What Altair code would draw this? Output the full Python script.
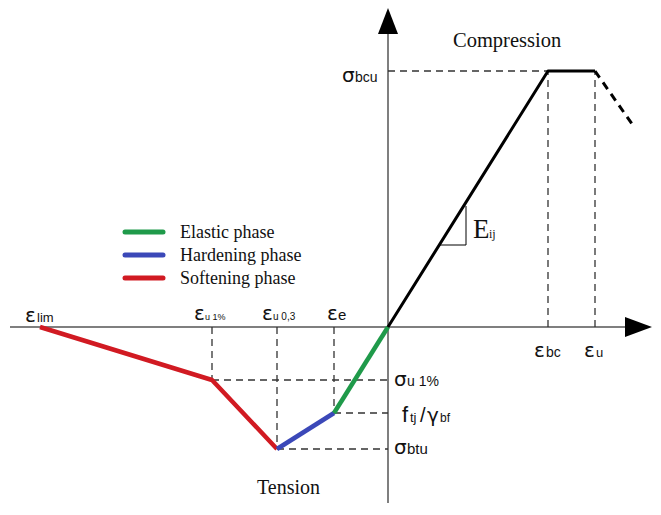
import altair as alt
import pandas as pd

# ---- key values (arbitrary units, origin at axis crossing) ----
# tension branch (strain, stress)
eps_lim, eps_u1, eps_u03, eps_e = -348, -176, -111, -54
sig_u1, sig_btu, sig_ftj = -53, -122, -86
# compression branch
eps_bc, eps_u = 160, 207
sig_bcu = 256
post_eps, post_sig = 244, 203

phases = ["Elastic phase", "Hardening phase", "Softening phase"]
phase_colors = ["#1f9a4a", "#3b48b8", "#d11a22"]

softening_x = [eps_lim, eps_u1, eps_u03]
softening_y = [0, sig_u1, sig_btu]
hardening_x = [eps_u03, eps_e]
hardening_y = [sig_btu, sig_ftj]
elastic_x = [eps_e, 0]
elastic_y = [sig_ftj, 0]
compression_x = [0, eps_bc, eps_u]
compression_y = [0, sig_bcu, sig_bcu]
postpeak_x = [eps_u, post_eps]
postpeak_y = [sig_bcu, post_sig]

# ---- layout (data space) ----
W, H = 644, 494
X = alt.Scale(domain=[-380, 264], nice=False, zero=False)
Y = alt.Scale(domain=[-176, 318], nice=False, zero=False)

def xq(f="x"):
    return alt.X(f"{f}:Q", scale=X, axis=None)

def yq(f="y"):
    return alt.Y(f"{f}:Q", scale=Y, axis=None)

color_enc = alt.Color("phase:N", scale=alt.Scale(domain=phases, range=phase_colors), legend=None)

# tension curve
rows = []
for ph, xs, ys in [("Softening phase", softening_x, softening_y),
                   ("Hardening phase", hardening_x, hardening_y),
                   ("Elastic phase", elastic_x, elastic_y)]:
    for i, (a, b) in enumerate(zip(xs, ys)):
        rows.append({"phase": ph, "order": i, "x": a, "y": b})
tension_df = pd.DataFrame(rows)

comp_df = pd.DataFrame({"x": compression_x, "y": compression_y, "order": range(3)})
post_df = pd.DataFrame({"x": postpeak_x, "y": postpeak_y, "order": range(2)})

guides = pd.DataFrame([
    (0, sig_bcu, eps_bc, sig_bcu),
    (eps_bc, 0, eps_bc, sig_bcu),
    (eps_u, 0, eps_u, sig_bcu),
    (eps_u1, sig_u1, 0, sig_u1),
    (eps_u1, 0, eps_u1, sig_u1),
    (eps_e, sig_ftj, 0, sig_ftj),
    (eps_e, 0, eps_e, sig_ftj),
    (eps_u03, sig_btu, 0, sig_btu),
    (eps_u03, 0, eps_u03, sig_btu),
], columns=["x", "y", "x2", "y2"])

axes_df = pd.DataFrame([(-378, 0, 238, 0), (0, -176, 0, 294)], columns=["x", "y", "x2", "y2"])

arrow_up = pd.DataFrame({"x": [0], "y": [306]})
arrow_right = pd.DataFrame({"x": [250.5], "y": [0]})

tri_df = pd.DataFrame({"x": [51, 78, 78], "y": [82, 82, 121], "order": range(3)})

# symbol glyphs (Greek / main letters)
main_labels = pd.DataFrame([
    ("ε", -363, 5, 20), ("ε", -194, 7, 20), ("ε", -126, 7, 20), ("ε", -61, 7, 20),
    ("ε", 146, -30, 20), ("ε", 196, -30, 20),
    ("σ", -46, 245, 20), ("σ", 6, -59, 20), ("σ", 6, -127, 20),
    ("γ", 39, -95, 20),
], columns=["t", "x", "y", "fs"])

sub_labels = pd.DataFrame([
    ("lim", -351, 5, 13),
    ("u 1%", -183, 7, 9),
    ("u 0,3", -115, 7, 10),
    ("e", -50, 7, 15),
    ("bc", 158, -30, 14),
    ("u", 208, -30, 13),
    ("bcu", -33, 245, 14),
    ("u 1%", 19, -59, 14),
    ("f", 14, -95, 22), ("tj", 22, -95, 13), ("/", 32, -95, 20), ("bf", 52, -95, 12),
    ("btu", 19, -127, 15),
], columns=["t", "x", "y", "fs"])

serif_labels = pd.DataFrame([
    ("Compression", 65, 280, 20.5),
    ("Tension", -131, -167, 20),
    ("E", 85, 89, 27),
    ("ij", 101, 89, 12),
], columns=["t", "x", "y", "fs"])

legend_y = [95, 72, 49]
legend_df = pd.DataFrame({"phase": phases, "y": legend_y, "x": -263, "x2": -225, "tx": -208})

# ---- layers ----
axes_layer = alt.Chart(axes_df).mark_rule(color="#555", strokeWidth=1.5).encode(
    x=xq(), y=yq(), x2="x2:Q", y2="y2:Q")

up_layer = alt.Chart(arrow_up).mark_point(
    shape="M-0.77,1L0.77,1L0,-1Z", filled=True, color="black", opacity=1, size=676, strokeWidth=0
).encode(x=xq(), y=yq())
right_layer = alt.Chart(arrow_right).mark_point(
    shape="M-1,-0.74L1,0L-1,0.74Z", filled=True, color="black", opacity=1, size=729, strokeWidth=0
).encode(x=xq(), y=yq())

guide_layer = alt.Chart(guides).mark_rule(color="#333", strokeWidth=1.3, strokeDash=[7, 5]).encode(
    x=xq(), y=yq(), x2="x2:Q", y2="y2:Q")

tension_layer = alt.Chart(tension_df).mark_line(strokeWidth=4.5, strokeJoin="round").encode(
    x=xq(), y=yq(), color=color_enc, detail="phase:N", order="order:Q")

comp_layer = alt.Chart(comp_df).mark_line(color="black", strokeWidth=3, strokeJoin="round").encode(
    x=xq(), y=yq(), order="order:Q")
post_layer = alt.Chart(post_df).mark_line(color="black", strokeWidth=3, strokeDash=[8, 6]).encode(
    x=xq(), y=yq(), order="order:Q")

tri_layer = alt.Chart(tri_df).mark_line(color="black", strokeWidth=1).encode(
    x=xq(), y=yq(), order="order:Q")

main_layer = alt.Chart(main_labels).mark_text(
    align="left", baseline="alphabetic", font="DejaVu Sans", color="#111"
).encode(x=xq(), y=yq(), text="t:N", size=alt.Size("fs:Q", scale=None))

sub_layer = alt.Chart(sub_labels).mark_text(
    align="left", baseline="alphabetic", font="Liberation Sans", color="#111"
).encode(x=xq(), y=yq(), text="t:N", size=alt.Size("fs:Q", scale=None))

serif_layer = alt.Chart(serif_labels).mark_text(
    align="left", baseline="alphabetic", font="Liberation Serif", color="#111"
).encode(x=xq(), y=yq(), text="t:N", size=alt.Size("fs:Q", scale=None))

legend_lines = alt.Chart(legend_df).mark_rule(strokeWidth=5, strokeCap="round").encode(
    x=xq(), x2="x2:Q", y=yq(), color=color_enc)
legend_text = alt.Chart(legend_df).mark_text(
    align="left", baseline="middle", font="Liberation Serif", fontSize=18, color="#111", dy=1
).encode(x=xq("tx"), y=yq(), text="phase:N")

chart = alt.layer(
    axes_layer, up_layer, right_layer, guide_layer, tension_layer, comp_layer, post_layer,
    tri_layer, main_layer, sub_layer, serif_layer, legend_lines, legend_text
).properties(width=W, height=H, padding=0, background="white").configure_view(stroke=None)

chart.save("out.html", embed_options={"renderer": "svg", "actions": False})
